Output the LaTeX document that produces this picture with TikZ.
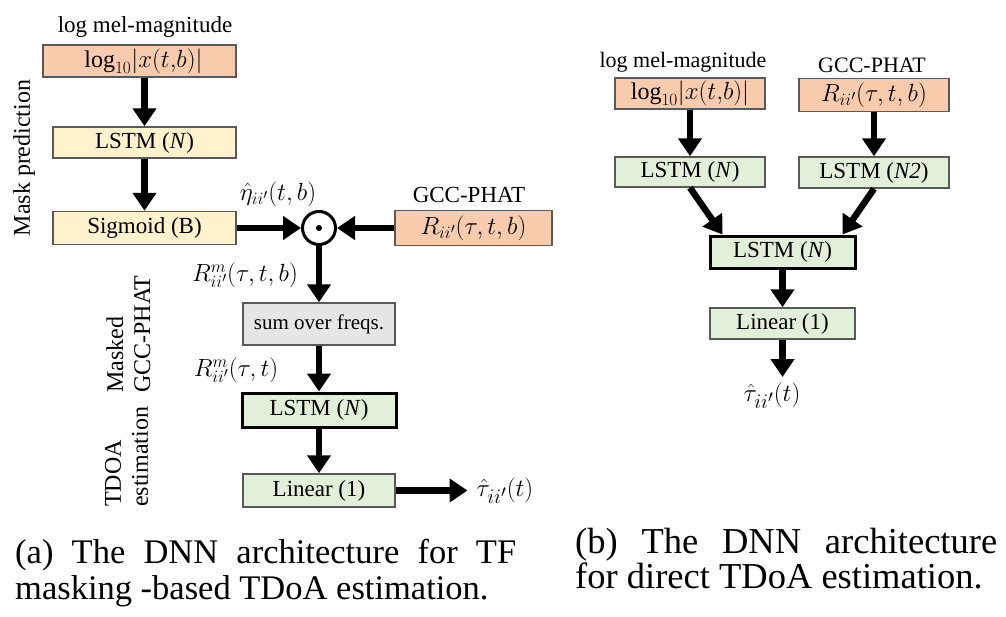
\documentclass[tikz,border=0pt]{standalone}
\usepackage{fontspec}
\setmainfont{Liberation Serif}
\usetikzlibrary{arrows.meta,calc}
\definecolor{orangefill}{HTML}{F8CBAD}
\definecolor{yellowfill}{HTML}{FFF2CC}
\definecolor{greenfill}{HTML}{E2F0D9}
\definecolor{grayfill}{HTML}{E7E6E6}
\definecolor{edgegray}{HTML}{595959}
\DeclareMathSizes{23}{23}{17}{13}
\DeclareMathSizes{24}{24}{18}{14}
\DeclareMathSizes{25}{25}{19}{15}
\DeclareMathSizes{27}{27}{20}{16}
\DeclareMathSizes{28}{28}{21}{16}
\newcommand\fsz[2]{\fontsize{#1}{#2}\selectfont}
\newcommand\logmag{$\mathrm{log}_{10}|x(t{,}b)|$}
\begin{document}
\begin{tikzpicture}[x=1pt,y=-1pt,
  box/.style={draw=edgegray,line width=1.5pt,inner sep=0pt,font=\fsz{23}{27}},
  thickbox/.style={box,draw=black,line width=3pt},
  arr/.style={line width=6.5pt,-{Triangle[length=18pt,width=23pt]}},
  lbl/.style={inner sep=0pt,font=\fsz{23}{27}},
  mlbl/.style={inner sep=0pt,font=\fsz{25}{29}},
  sidelbl/.style={inner sep=0pt,rotate=90,align=left,font=\fsz{24}{27}},
  captxt/.style={inner sep=0pt,anchor=base west}]
\useasboundingbox (0,0) rectangle (1006,616);

% ---------- (a) ----------
\node[lbl] (lmlab) at (145,27) {log mel-magnitude};
\node[box,fill=orangefill,minimum width=193pt,minimum height=32pt,font=\fsz{24}{28}] (in1) at (139.5,61) {\hspace{8pt}\logmag};
\node[box,fill=yellowfill,minimum width=183pt,minimum height=31pt] (l1) at (144.5,142.5) {LSTM (\textit{N})};
\node[box,fill=yellowfill,minimum width=183pt,minimum height=33pt] (sig) at (144.5,228) {Sigmoid (B)};
\node[circle,draw=black,line width=3pt,minimum size=33pt,inner sep=0pt] (dot) at (319,228) {};
\fill (dot.center) circle (3pt);
\node[mlbl] (eta) at (278,194) {$\hat\eta_{ii'}(t,b)$};
\node[lbl] (gcclab) at (469,195) {GCC-PHAT};
\node[box,fill=orangefill,minimum width=157pt,minimum height=35pt,font=\fsz{25}{29}] (rin) at (473.5,228) {$R_{ii'}(\tau,t,b)$};
\node[mlbl] (rm1) at (245,275) {$R^{m}_{ii'}(\tau,t,b)$};
\node[box,fill=grayfill,minimum width=152pt,minimum height=42pt,font=\fsz{21}{25}] (sum) at (319,324) {sum over freqs.};
\node[mlbl] (rm2) at (236,370) {$R^{m}_{ii'}(\tau,t)$};
\node[thickbox,fill=greenfill,minimum width=154pt,minimum height=34pt] (l2) at (319,410) {LSTM (\textit{N})};
\node[box,fill=greenfill,minimum width=152pt,minimum height=33pt] (lin) at (319,490.5) {Linear (1)};
\node[inner sep=0pt,font=\fsz{28}{32},inner xsep=9pt] (tau) at (505,491) {$\hat\tau_{ii'}(t)$};

\node[sidelbl] (mp) at (24,158) {Mask prediction};
\node[sidelbl,anchor=west] (mg) at (128.5,393) {Masked\\GCC-PHAT};
\node[sidelbl,anchor=west] (te) at (126.5,507) {TDOA\\estimation};

\draw[arr] (l1.north |- in1.south) -- (l1.north);
\draw[arr] (l1) -- (sig);
\draw[arr] (sig) -- (dot);
\draw[arr] (rin) -- (dot);
\draw[arr] (dot) -- (sum);
\draw[arr] (sum) -- (l2);
\draw[arr] (l2) -- (lin);
\draw[arr] (lin.east) -- (lin.east -| tau.west);

% ---------- (b) ----------
\node[lbl,font=\fsz{22}{26}] (lmlab2) at (683,62) {log mel-magnitude};
\node[box,fill=orangefill,minimum width=150pt,minimum height=31pt,font=\fsz{24}{28}] (rin1) at (690,93.5) {\logmag};
\node[lbl,font=\fsz{22}{26}] (gcclab2) at (872,65) {GCC-PHAT};
\node[box,fill=orangefill,minimum width=150pt,minimum height=33pt,font=\fsz{25}{29}] (rin2) at (874,95) {$R_{ii'}(\tau,t,b)$};
\node[box,fill=greenfill,minimum width=150pt,minimum height=30pt] (rl1) at (690,172) {LSTM (\textit{N})};
\node[box,fill=greenfill,minimum width=150pt,minimum height=31pt] (rl2) at (874,172.5) {LSTM (\textit{N2})};
\node[thickbox,fill=greenfill,minimum width=145pt,minimum height=32pt] (rc) at (782.5,252) {LSTM (\textit{N})};
\node[box,fill=greenfill,minimum width=145pt,minimum height=31pt] (rlin) at (782.5,323.5) {Linear (1)};
\node[inner sep=0pt,font=\fsz{27}{31}] (rtau) at (772,396) {$\hat\tau_{ii'}(t)$};
\coordinate (rtip) at (782.5,377);

\draw[arr] (rin1) -- (rl1);
\draw[arr] (rin2) -- (rl2);
\draw[arr] (rl1.south) -- ($(rc.north)+(-60,0)$);
\draw[arr] (rl2.south) -- ($(rc.north)+(60,0)$);
\draw[arr] (rc) -- (rlin);
\draw[arr] (rlin) -- (rtip);

% ---------- captions ----------
\node[captxt,font=\fsz{34.5}{40}] (capa1) at (15,563) {\makebox[501pt][s]{(a) The DNN architecture for TF}};
\node[captxt,font=\fsz{34.5}{40}] (capa2) at (15,599) {masking -based TDoA estimation.};
\node[captxt,font=\fsz{36.5}{42}] (capb1) at (575,553) {\makebox[422pt][s]{(b) The DNN architecture}};
\node[captxt,font=\fsz{36.5}{42}] (capb2) at (575,588) {for direct TDoA estimation.};
\end{tikzpicture}
\end{document}
